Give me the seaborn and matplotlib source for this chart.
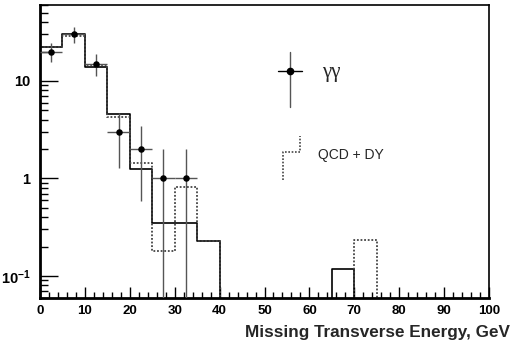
import numpy as np
import pandas as pd
import matplotlib
matplotlib.use("Agg")
import matplotlib.pyplot as plt
import seaborn as sns
from matplotlib.ticker import FixedLocator, FixedFormatter, MultipleLocator

# Binning of the missing transverse energy histograms (GeV)
bin_edges = list(range(0, 105, 5))
bin_centers = [e + 2.5 for e in bin_edges[:-1]]

# Expected background, solid histogram
bkg_solid = [22.5, 30, 14, 4.6, 1.25, 0.35, 0.35, 0.23, 0, 0,
             0, 0, 0, 0.117, 0, 0, 0, 0, 0, 0]
# QCD + DY, dotted histogram
bkg_qcd_dy = [22, 29, 14.5, 4.3, 1.43, 0.18, 0.82, 0.23, 0, 0,
              0, 0, 0, 0, 0.235, 0, 0, 0, 0, 0]

# Observed diphoton events
obs_met = [2.5, 7.5, 12.5, 17.5, 22.5, 27.5, 32.5]
obs_counts = [20, 30, 15, 3, 2, 1, 1]

sns.set_theme(style="ticks")
plt.rcParams["font.family"] = ["Liberation Sans", "DejaVu Sans"]
plt.rcParams["font.weight"] = "bold"
plt.rcParams["mathtext.fontset"] = "custom"
plt.rcParams["mathtext.bf"] = "Liberation Sans:bold"
plt.rcParams["mathtext.rm"] = "Liberation Sans"

fig = plt.figure(figsize=(5.11, 3.48), dpi=100)
ax = fig.add_axes([40 / 511, 1 - 297.6 / 348, 449 / 511, 292.6 / 348])
ax.set_yscale("log")

hist_df = pd.DataFrame({"met": bin_centers, "solid": bkg_solid, "dotted": bkg_qcd_dy})
sns.histplot(data=hist_df, x="met", weights="solid", bins=bin_edges,
             element="step", fill=False, color="black", linewidth=1.2, ax=ax)
sns.histplot(data=hist_df, x="met", weights="dotted", bins=bin_edges,
             element="step", fill=False, color="#444444", linewidth=1.3,
             linestyle=(0, (1, 1)), ax=ax)

obs = np.array(obs_counts, dtype=float)
err = np.sqrt(obs)
lower = np.minimum(err, obs - 1e-6)
ax.errorbar(obs_met, obs, yerr=[lower, err], xerr=2.5, fmt="none",
            ecolor="#555555", elinewidth=1.0, capsize=0, zorder=3)
sns.scatterplot(x=obs_met, y=obs, color="black", s=22, edgecolor="black",
                linewidth=0, zorder=4, ax=ax, legend=False)

ax.set_xlim(0, 100)
ax.set_ylim(0.06, 60)

# Axis styling
ax.set_xlabel("")
ax.set_ylabel("")
ax.xaxis.set_major_locator(MultipleLocator(10))
ax.xaxis.set_minor_locator(MultipleLocator(2))
major_y = [0.1, 1, 10]
ax.yaxis.set_major_locator(FixedLocator(major_y))
ax.yaxis.set_major_formatter(FixedFormatter([r"$\mathbf{10^{-1}}$", "1", "10"]))
minor_y = [m * d for d in (0.01, 0.1, 1, 10) for m in range(2, 10)]
ax.yaxis.set_minor_locator(FixedLocator(minor_y))
ax.yaxis.set_minor_formatter(FixedFormatter([""] * len(minor_y)))
ax.tick_params(axis="both", which="both", direction="in", colors="black",
               top=False, right=False)
ax.tick_params(axis="x", which="major", length=8, width=1.0, pad=5, labelsize=9.5)
ax.tick_params(axis="x", which="minor", length=4, width=1.0)
ax.tick_params(axis="y", which="major", length=13, width=1.0, pad=7, labelsize=10.5)
ax.tick_params(axis="y", which="minor", length=6, width=1.0)
for lbl in ax.get_xticklabels() + ax.get_yticklabels():
    lbl.set_fontweight("bold")

for side in ("left", "bottom"):
    ax.spines[side].set_linewidth(2.0)
for side in ("top", "right"):
    ax.spines[side].set_linewidth(1.2)
    ax.spines[side].set_visible(True)
for side in ax.spines.values():
    side.set_color("black")

fig.text(510 / 511, 1 - 333 / 348, "Missing Transverse Energy, GeV",
         ha="right", va="center", fontsize=12.3, fontweight="bold")

# Legend drawn in axes-fraction coordinates
T = ax.transAxes
def fx(px):
    return (px - 40) / 449
def fy(py):
    return (297.6 - py) / 292.6
ax.plot([fx(290), fx(290)], [fy(52), fy(107)], color="#555555", lw=1.0, transform=T)
ax.plot([fx(278), fx(302)], [fy(71), fy(71)], color="black", lw=1.0, transform=T)
ax.plot([fx(290)], [fy(71)], "o", color="black", ms=4.5, transform=T)
ax.text(fx(322), fy(73), "γγ", transform=T, ha="left", va="center",
        fontsize=15, family="Liberation Serif", fontweight="normal")
ax.plot([fx(283), fx(283), fx(300), fx(300)], [fy(180), fy(152), fy(152), fy(136)],
        color="#444444", lw=1.2, linestyle=(0, (1, 1)), transform=T)
ax.text(fx(318), fy(155), "QCD + DY", transform=T, ha="left", va="center",
        fontsize=10, fontweight="normal")

fig.savefig("out.png", dpi=100)
